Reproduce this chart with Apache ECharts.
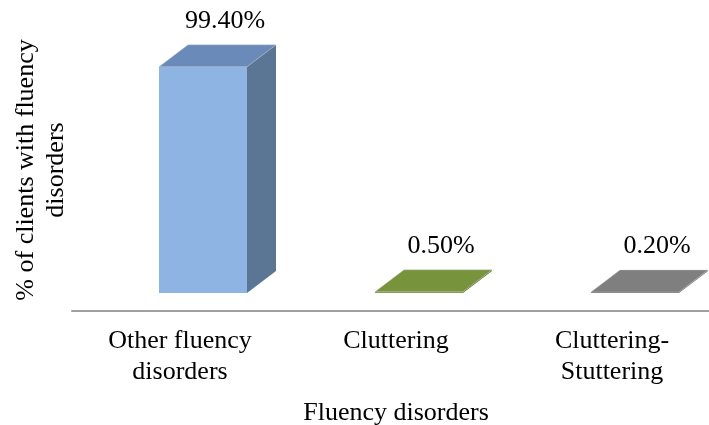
<!DOCTYPE html>
<html>
<head>
<meta charset="utf-8">
<script src="https://cdn.jsdelivr.net/npm/echarts@6/dist/echarts.min.js"></script>
<style>
  html, body { margin: 0; padding: 0; background: #fff; }
  #chart { width: 709px; height: 425px; }
</style>
</head>
<body>
<div id="chart"></div>
<script>
// Share of clients per fluency-disorder group (%)
const categories = ['Other fluency\ndisorders', 'Cluttering', 'Cluttering-\nStuttering'];
const percentages = [99.4, 0.5, 0.2];
const frontColors = ['#8EB4E3', '#7A9A3E', '#808080'];
const topColors = ['#6A8BBA', '#77933C', '#7F7F7F'];
const sideColors = ['#5B7695', '#5F7A2E', '#6A6A6A'];

const FONT = '"Liberation Serif", "Times New Roman", serif';

// pseudo-3D column geometry (pixels)
const SHIFT_X = 23;     // bar set back from the axis plane
const SHIFT_Y = 18;
const DEPTH_X = 29;     // depth of each column
const DEPTH_Y = 22;
const BAR_W = 88;

function renderBar(params, api) {
  const i = api.value(0);
  const v = api.value(1);
  const base = api.coord([i, 0]);
  const top = api.coord([i, v]);
  const h = Math.max(1, base[1] - top[1]);
  const cx = base[0] + SHIFT_X;
  const x0 = cx - BAR_W / 2;
  const x1 = cx + BAR_W / 2;
  const yb = base[1] - SHIFT_Y;
  const yt = yb - h;
  return {
    type: 'group',
    children: [
      {
        type: 'polygon',
        shape: { points: [[x1, yt], [x1 + DEPTH_X, yt - DEPTH_Y], [x1 + DEPTH_X, yb - DEPTH_Y], [x1, yb]] },
        style: { fill: sideColors[i] }
      },
      {
        type: 'rect',
        shape: { x: x0, y: yt, width: BAR_W, height: h },
        style: { fill: frontColors[i] }
      },
      {
        type: 'polygon',
        shape: { points: [[x0, yt], [x1, yt], [x1 + DEPTH_X, yt - DEPTH_Y], [x0 + DEPTH_X, yt - DEPTH_Y]] },
        style: { fill: topColors[i], stroke: 'rgba(200,200,200,0.6)', lineWidth: 0.6 }
      },
      {
        type: 'text',
        x: cx + 22,
        y: yt - DEPTH_Y - 24,
        style: {
          text: percentages[i].toFixed(2) + '%',
          fill: '#000',
          font: '26px ' + FONT,
          align: 'center',
          verticalAlign: 'middle'
        }
      }
    ]
  };
}

const chart = echarts.init(document.getElementById('chart'), null, { renderer: 'canvas' });
chart.setOption({
  backgroundColor: '#ffffff',
  animation: false,
  grid: { left: 72, right: -11, top: 38, bottom: 114, outerBoundsMode: 'none', containLabel: false },
  xAxis: {
    type: 'category',
    data: categories,
    axisLine: { show: true, lineStyle: { color: '#A0A0A0', width: 2 } },
    axisTick: { show: false },
    axisLabel: {
      interval: 0,
      margin: 15,
      color: '#000',
      fontFamily: FONT,
      fontSize: 26,
      lineHeight: 31
    },
    name: 'Fluency disorders',
    nameLocation: 'middle',
    nameGap: 89,
    nameTextStyle: { color: '#000', fontFamily: FONT, fontSize: 26 }
  },
  yAxis: {
    type: 'value',
    min: 0,
    max: 120,
    show: false
  },
  graphic: [
    {
      type: 'text',
      x: 41,
      y: 170,
      rotation: Math.PI / 2,
      style: {
        text: '% of clients with fluency\ndisorders',
        fill: '#000',
        font: '26px ' + FONT,
        lineHeight: 30,
        align: 'center',
        verticalAlign: 'middle'
      }
    }
  ],
  series: [
    {
      type: 'custom',
      renderItem: renderBar,
      encode: { x: 0, y: 1 },
      data: percentages.map((v, i) => [i, v])
    }
  ]
});
</script>
</body>
</html>
